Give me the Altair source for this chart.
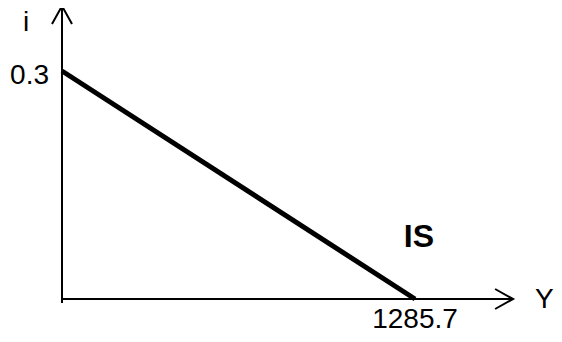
import altair as alt
import pandas as pd

# IS curve endpoints
is_Y = [0, 1285.7]
is_i = [0.3, 0]

# axis extents (data units)
yaxis_i = [-0.0053, 0.3855]
xaxis_Y = [0, 1643]

# labels
label_text = ["0.3", "1285.7", "i", "Y"]
label_Y = [0, 1285.7, 0, 1643]
label_i = [0.3, 0, 0.3855, 0]
label_dx = [-13, 0, -36, 22]
label_dy = [5, 21, 17, 1]
label_align = ["right", "center", "center", "left"]

curve_name = ["IS"]
curve_Y = [1300]
curve_i = [0.082]

xs = alt.Scale(domain=[0, 1285.7], range=[54, 407])
ys = alt.Scale(domain=[0, 0.3], range=[283, 55])
X = lambda f: alt.X(f, type="quantitative", scale=xs, axis=None)
Yc = lambda f: alt.Y(f, type="quantitative", scale=ys, axis=None)

is_df = pd.DataFrame({"Y": is_Y, "i": is_i})
yax = pd.DataFrame({"Y": [0, 0], "i": yaxis_i})
xax = pd.DataFrame({"Y": xaxis_Y, "i": [0, 0]})
tips = pd.DataFrame({"Y": [0, xaxis_Y[1]], "i": [yaxis_i[1], 0], "ang": [0, 90]})
labels = pd.DataFrame({"t": label_text, "Y": label_Y, "i": label_i})
curve_lab = pd.DataFrame({"t": curve_name, "Y": curve_Y, "i": curve_i})

ax_y = alt.Chart(yax).mark_line(color="black", strokeWidth=2).encode(x=X("Y"), y=Yc("i"))
ax_x = alt.Chart(xax).mark_line(color="black", strokeWidth=2).encode(x=X("Y"), y=Yc("i"))
arrows = alt.Chart(tips).mark_point(
    shape="M -1 1.8 L 0 0 L 1 1.8", filled=False, size=400, color="black",
    strokeWidth=2, opacity=1
).encode(x=X("Y"), y=Yc("i"), angle=alt.Angle("ang:Q", scale=None))
line = alt.Chart(is_df).mark_line(color="black", strokeWidth=5).encode(x=X("Y"), y=Yc("i"))

text_layers = []
for k in range(len(label_text)):
    d = labels.iloc[[k]]
    text_layers.append(
        alt.Chart(d).mark_text(
            font="Liberation Sans", fontSize=28, color="black",
            align=label_align[k], baseline="middle", dx=label_dx[k], dy=label_dy[k]
        ).encode(x=X("Y"), y=Yc("i"), text="t:N")
    )
is_text = alt.Chart(curve_lab).mark_text(
    font="Liberation Sans", fontSize=32, fontWeight="bold", color="black",
    align="center", baseline="middle"
).encode(x=X("Y"), y=Yc("i"), text="t:N")

chart = alt.layer(ax_y, ax_x, arrows, line, *text_layers, is_text).properties(
    width=546, height=318,
    autosize=alt.AutoSizeParams(type="none"),
    padding={"left": 0, "top": 8, "right": 0, "bottom": 0},
).configure_view(stroke=None)

chart.save("out.html", embed_options={"renderer": "svg", "actions": False})
